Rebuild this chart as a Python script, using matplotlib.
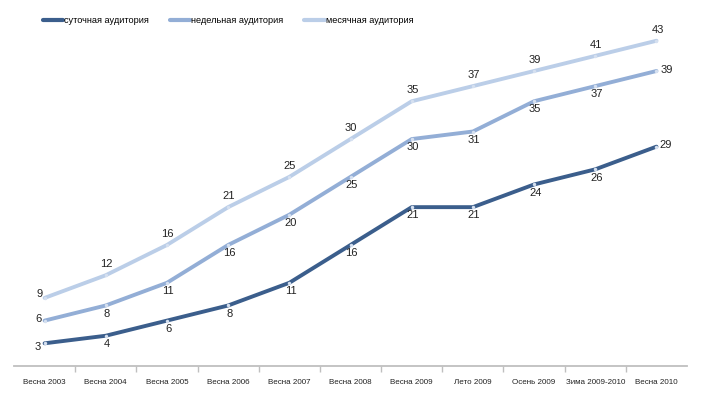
import matplotlib
matplotlib.use("Agg")
import matplotlib.pyplot as plt
import numpy as np

plt.rcParams['font.family'] = ['Liberation Sans Narrow', 'Liberation Sans', 'DejaVu Sans']

categories = ["Весна 2003", "Весна 2004", "Весна 2005", "Весна 2006", "Весна 2007",
              "Весна 2008", "Весна 2009", "Лето 2009", "Осень 2009", "Зима 2009-2010", "Весна 2010"]
daily = [3, 4, 6, 8, 11, 16, 21, 21, 24, 26, 29]
weekly = [6, 8, 11, 16, 20, 25, 30, 31, 35, 37, 39]
monthly = [9, 12, 16, 21, 25, 30, 35, 37, 39, 41, 43]
series_names = ["суточная аудитория", "недельная аудитория", "месячная аудитория"]

colors = ["#3B5E8C", "#93AED6", "#BBCEE8"]

fig = plt.figure(figsize=(7.10, 3.99), dpi=100)
ax = fig.add_axes([0.0197, 0.0827, 0.948, 0.91])

x = np.arange(len(categories))
series = [daily, weekly, monthly]
for vals, c, name in zip(series, colors, series_names):
    ax.plot(x, vals, color=c, lw=2.8, solid_capstyle='round', solid_joinstyle='round',
            label=name, marker='o', markersize=2.5, markerfacecolor='#D5E0F0',
            markeredgewidth=0, zorder=3)

lab_kw = dict(fontsize=8, color='#222222', zorder=4, ha='center', va='center',
              textcoords='offset points')
n = len(categories)


def put(val, i, dx, dy):
    ax.annotate(str(val), (x[i], val), xytext=(dx, dy), **lab_kw)


for i in range(n):
    # monthly: above
    if i == 0:
        put(monthly[i], i, -3.6, 2.9)
    elif i == n - 1:
        put(monthly[i], i, 0.7, 8.0)
    else:
        put(monthly[i], i, 0.5, 8.0)
    # weekly: below
    if i == 0:
        put(weekly[i], i, -4.5, 1.4)
    elif i == n - 1:
        put(weekly[i], i, 7.2, 0.7)
    else:
        put(weekly[i], i, 0.8, -5.8)
    # daily: below
    if i == 0:
        put(daily[i], i, -5.0, -2.9)
    elif i == n - 1:
        put(daily[i], i, 6.5, 1.4)
    else:
        put(daily[i], i, 0.8, -6.0)

ax.set_xlim(-0.5, n - 0.5)
ax.set_ylim(0, 48)
ax.set_yticks([])
for s in ['left', 'right', 'top']:
    ax.spines[s].set_visible(False)
ax.spines['bottom'].set_color('#BFBFBF')
ax.spines['bottom'].set_linewidth(1.3)

ax.set_xticks(x)
ax.set_xticklabels(categories, fontsize=5.8, color='#222222')
ax.tick_params(axis='x', which='major', length=0, pad=9)
ax.set_xticks(np.arange(-0.5, n - 0.4, 1.0)[1:-1], minor=True)
ax.tick_params(axis='x', which='minor', length=4, width=1, color='#BFBFBF', direction='out')

leg = ax.legend(loc='upper left', bbox_to_anchor=(0.024, 1.0), ncol=3, frameon=False,
                fontsize=6.6, handlelength=2.2, handletextpad=0.1, columnspacing=2.3,
                borderaxespad=1.0)
for h in leg.get_lines():
    h.set_marker('')
    h.set_linewidth(3)

fig.savefig("out.png", dpi=100)
